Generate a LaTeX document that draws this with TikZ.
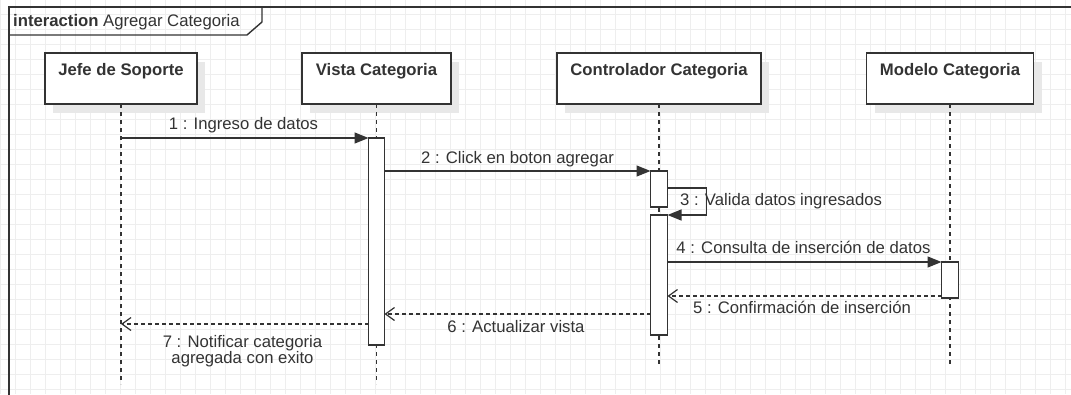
\documentclass[tikz,border=0pt]{standalone}
\usepackage{fontspec}
\setmainfont{Liberation Sans}
\usetikzlibrary{arrows.meta,shadows}
\definecolor{ln}{HTML}{333333}
\definecolor{gridc}{HTML}{EEEEEE}
\definecolor{shad}{HTML}{E8E8E8}
\begin{document}
\begin{tikzpicture}[x=1pt,y=-1pt,
  font=\fontsize{16.7}{18}\selectfont, text=ln,
  head/.style={draw=ln, line width=1.5pt, fill=white, minimum height=51pt, inner sep=0pt, outer sep=0pt,
    drop shadow={shadow xshift=8pt, shadow yshift=-9pt, fill=shad, opacity=1}},
  headtxt/.style={font=\fontsize{16.7}{18}\selectfont\bfseries, anchor=base, inner sep=0pt},
  act/.style={draw=ln, line width=1.4pt, fill=white, minimum width=16pt, inner sep=0pt, outer sep=0pt, anchor=north},
  life/.style={draw=ln, line width=1.3pt, dash pattern=on 4pt off 4pt},
  msg/.style={draw=ln, line width=1.3pt, -{Triangle[length=14pt,width=11pt]}},
  ret/.style={draw=ln, line width=1.2pt, dash pattern=on 4pt off 3pt, -{Straight Barb[length=9pt,width=13pt]}},
  lbl/.style={anchor=base, inner sep=0pt}
]
\useasboundingbox (0,0) rectangle (1071,394);
\clip (0,0) rectangle (1071,394);
\fill[white] (0,0) rectangle (1071,394);
% grid
\foreach \i in {0,...,71} \draw[gridc, line width=1pt] (0.7+15*\i,0) -- (0.7+15*\i,394);
\foreach \j in {0,...,27} \draw[gridc, line width=1pt] (0,-0.7+15*\j) -- (1071,-0.7+15*\j);
% frame
\draw[ln, line width=1.6pt] (9,420) -- (9,7) -- (1100,7);
\draw[ln, line width=1.4pt] (9,35) -- (247,35) -- (262,22) -- (262,7);
\node[lbl, anchor=base west] (title) at (13,26) {\textbf{interaction} Agregar Categoria};
% heads
\node[head, minimum width=152pt] (jefe) at (121,78.5) {};
\node[head, minimum width=149pt] (vista) at (376.5,78.5) {};
\node[head, minimum width=204pt] (ctrl) at (659,78.5) {};
\node[head, minimum width=167pt] (modelo) at (950,78.5) {};
\node[headtxt] (jefeT) at ([yshift=-22pt]jefe.north) {Jefe de Soporte};
\node[headtxt] (vistaT) at ([yshift=-22pt]vista.north) {Vista Categoria};
\node[headtxt] (ctrlT) at ([yshift=-22pt]ctrl.north) {Controlador Categoria};
\node[headtxt] (modeloT) at ([yshift=-22pt]modelo.north) {Modelo Categoria};
% lifelines
\coordinate (jefeEnd) at (121,384);
\coordinate (vistaEnd) at (376.5,384);
\coordinate (ctrlEnd) at (659,366);
\coordinate (modeloEnd) at (950,366);
\draw[life] (jefe.south) -- (jefeEnd);
\draw[life] (vista.south) -- (vistaEnd);
\draw[life] (ctrl.south) -- (ctrlEnd);
\draw[life] (modelo.south) -- (modeloEnd);
% activations
\node[act, minimum height=207pt] (va) at (376.5,138) {};
\node[act, minimum height=36pt, minimum width=17pt] (ca1) at (659,171) {};
\node[act, minimum height=120pt, minimum width=17pt] (ca2) at (659,215) {};
\node[act, minimum height=36pt, minimum width=17pt] (ma) at (950,262) {};
% messages
\draw[msg] (jefe.south |- va.north) -- (va.north west);
\node[lbl] (m1) at (243.5,129) {1 : Ingreso de datos};
\draw[msg] (va.east |- ca1.north) -- (ca1.north west);
\node[lbl] (m2) at (517.5,163) {2 : Click en boton agregar};
\draw[msg] ([yshift=-17pt]ca1.north east) -- ++(39,0) |- (ca2.north east);
\node[lbl, anchor=base west] (m3) at (680,205) {3 : Valida datos ingresados};
\draw[msg] (ca2.east |- ma.north) -- (ma.north west);
\node[lbl] (m4) at (803.5,253) {4 : Consulta de inserción de datos};
\draw[ret] ([yshift=-34pt]ma.north west) coordinate (r5) -- (ca2.east |- r5);
\node[lbl] (m5) at (802,313) {5 : Confirmación de inserción};
\draw[ret] ([yshift=-99pt]ca2.north west) coordinate (r6) -- (va.east |- r6);
\node[lbl] (m6) at (516,332) {6 : Actualizar vista};
\draw[ret] ([yshift=-186pt]va.north west) coordinate (r7) -- (jefe.south |- r7);
\node[anchor=north, inner sep=0pt, align=center, font=\fontsize{16.7}{16}\selectfont] (m7) at (242.5,335) {7 : Notificar categoria\\agregada con exito};
\end{tikzpicture}
\end{document}
